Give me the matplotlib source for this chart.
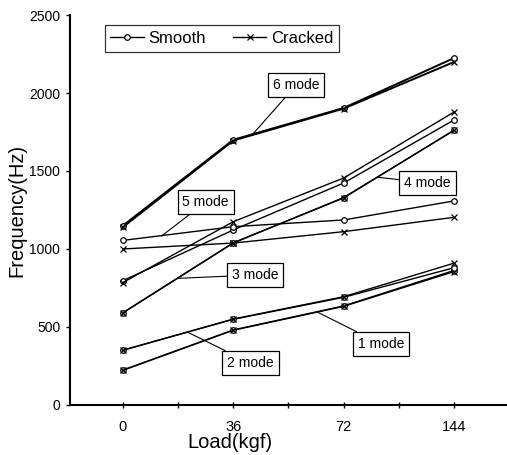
import numpy as np
import matplotlib.pyplot as plt

plt.rcParams['font.family'] = ['Liberation Sans', 'DejaVu Sans']

loads = ['0', '36', '72', '144']

# frequencies (Hz) per mode, smooth and cracked
smooth = {
    1: [224, 481, 635, 862],
    2: [352, 549, 690, 880],
    3: [592, 1040, 1327, 1762],
    4: [797, 1122, 1423, 1827],
    5: [1055, 1143, 1186, 1308],
    6: [1150, 1700, 1904, 2224],
}
cracked = {
    1: [222, 479, 632, 855],
    2: [350, 551, 694, 909],
    3: [590, 1038, 1330, 1760],
    4: [785, 1175, 1455, 1878],
    5: [1000, 1038, 1111, 1203],
    6: [1140, 1695, 1900, 2199],
}

# label text position and pointer tip (x index, Hz)
mode_labels = {
    6: ((1.57, 2051), (1.17, 1731)),
    5: ((0.75, 1301), (0.35, 1083)),
    4: ((2.76, 1423), (2.31, 1460)),
    3: ((1.20, 833), (0.50, 812)),
    2: ((1.155, 269), (0.59, 465)),
    1: ((2.34, 391), (1.76, 596)),
}

fig = plt.figure(figsize=(5.07, 4.55), dpi=100)
ax = fig.add_axes([0.138, 0.110, 0.862, 0.857])

x = np.arange(len(loads))
for m in range(1, 7):
    lw = 1.4 if m == 6 else 1.0
    ax.plot(x, smooth[m], color='black', lw=lw, marker='o', ms=4,
            mfc='white', mec='black', mew=0.9,
            label='Smooth' if m == 1 else None)
    ax.plot(x, cracked[m], color='black', lw=lw, marker='x', ms=5,
            mew=0.9, label='Cracked' if m == 1 else None)

for m, (txt, tip) in mode_labels.items():
    ax.annotate('%d mode' % m, xy=tip, xytext=txt, ha='center', va='center',
                fontsize=10,
                bbox=dict(boxstyle='square,pad=0.35', fc='white', ec='black', lw=0.9),
                arrowprops=dict(arrowstyle='-', color='black', lw=0.8,
                                shrinkA=0, shrinkB=0))

ax.set_xlim(-0.48, 3.48)
ax.set_ylim(0, 2500)
ax.set_xticks(x)
ax.set_xticklabels(loads, fontsize=10.5)
ax.set_xticks(x[:-1] + 0.5, minor=True)
ax.set_yticks(np.arange(0, 2501, 500))
ax.tick_params(axis='y', labelsize=10, direction='out', length=3, width=1, pad=4)
ax.tick_params(axis='x', which='both', direction='inout', length=4, width=1, pad=9)

for s in ['top', 'right']:
    ax.spines[s].set_visible(False)
ax.spines['left'].set_linewidth(1.5)
ax.spines['bottom'].set_linewidth(1.5)

ax.set_ylabel('Frequency(Hz)', fontsize=14.5, labelpad=2)
ax.set_xlabel('Load(kgf)', fontsize=14.5)
ax.xaxis.set_label_coords(0.365, -0.072)

leg = ax.legend(loc='upper left', ncol=2, fontsize=12, frameon=True, fancybox=False,
                edgecolor='black', handlelength=2.0, columnspacing=1.6,
                bbox_to_anchor=(0.06, 0.995), borderpad=0.35, handletextpad=0.3)
leg.get_frame().set_linewidth(0.9)

fig.savefig('out.png', dpi=100)
